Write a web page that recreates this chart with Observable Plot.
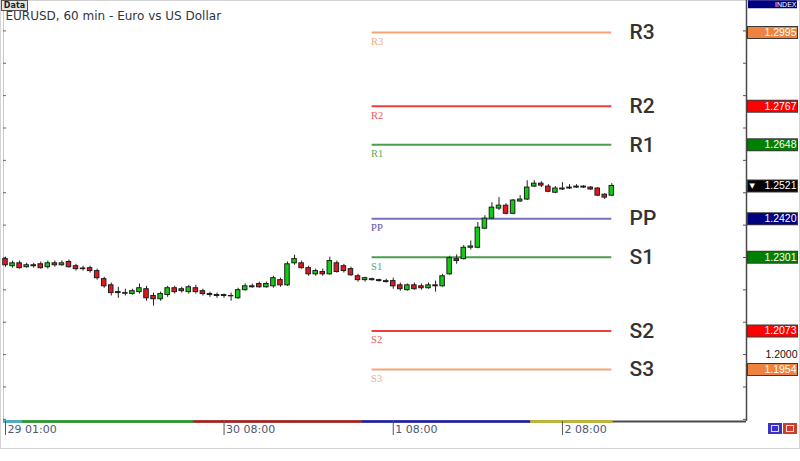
<!DOCTYPE html>
<html>
<head>
<meta charset="utf-8">
<script src="https://cdn.jsdelivr.net/npm/d3@7"></script>
<script src="https://cdn.jsdelivr.net/npm/@observablehq/plot@0.6"></script>
<style>
  html, body { margin: 0; padding: 0; background: #fff; }
  #wrap { position: relative; width: 800px; height: 461px; overflow: hidden; }
  #border { position: absolute; left: 0; top: 0; width: 798px; height: 447px; border: 1px solid #d4d4d4; pointer-events: none; }
  #tab { position: absolute; left: 1px; top: 0px; width: 25px; height: 9px; border: 1px solid #555; background: #e6e6e6;
         font: bold 8px 'DejaVu Sans', sans-serif; line-height: 9px; color: #222; text-align: center; }
  .btn { position: absolute; top: 423px; width: 14px; height: 11px; }
</style>
</head>
<body>
<div id="wrap">
  <div id="border"></div>
</div>
<script>
// ---- data ----
const title = "EURUSD, 60 min - Euro vs US Dollar";
const candleOpen = [
  1.2295, 1.2273, 1.2282, 1.2270, 1.2276, 1.2279, 1.2270, 1.2282, 1.2276, 1.2286,
  1.2273, 1.2266, 1.2267, 1.2258, 1.2233, 1.2214, 1.2193, 1.2190, 1.2187, 1.2193,
  1.2202, 1.2181, 1.2171, 1.2184, 1.2205, 1.2202, 1.2193, 1.2205, 1.2196, 1.2187,
  1.2184, 1.2181, 1.2181, 1.2174, 1.2199, 1.2208, 1.2218, 1.2208, 1.2211, 1.2230,
  1.2214, 1.2282, 1.2282, 1.2267, 1.2248, 1.2255, 1.2248, 1.2282, 1.2273, 1.2264,
  1.2242, 1.2230, 1.2233, 1.2230, 1.2227, 1.2227, 1.2214, 1.2199, 1.2214, 1.2211,
  1.2205, 1.2214, 1.2211, 1.2248, 1.2295, 1.2295, 1.2330, 1.2330, 1.2389, 1.2420,
  1.2451, 1.2460, 1.2435, 1.2473, 1.2479, 1.2519, 1.2528, 1.2519, 1.2500, 1.2510,
  1.2513, 1.2516, 1.2519, 1.2516, 1.2513, 1.2494, 1.2491
];
const candleHigh = [
  1.2301, 1.2289, 1.2289, 1.2282, 1.2282, 1.2286, 1.2289, 1.2289, 1.2289, 1.2292,
  1.2279, 1.2273, 1.2273, 1.2264, 1.2239, 1.2221, 1.2208, 1.2202, 1.2202, 1.2218,
  1.2211, 1.2190, 1.2193, 1.2211, 1.2211, 1.2208, 1.2214, 1.2214, 1.2202, 1.2193,
  1.2190, 1.2187, 1.2190, 1.2205, 1.2218, 1.2218, 1.2224, 1.2224, 1.2242, 1.2236,
  1.2286, 1.2307, 1.2289, 1.2273, 1.2264, 1.2264, 1.2301, 1.2289, 1.2279, 1.2270,
  1.2248, 1.2239, 1.2236, 1.2233, 1.2233, 1.2236, 1.2221, 1.2218, 1.2221, 1.2218,
  1.2221, 1.2227, 1.2248, 1.2304, 1.2308, 1.2337, 1.2351, 1.2408, 1.2429, 1.2469,
  1.2485, 1.2466, 1.2479, 1.2491, 1.2537, 1.2537, 1.2534, 1.2525, 1.2519, 1.2531,
  1.2525, 1.2525, 1.2522, 1.2519, 1.2516, 1.2497, 1.2528
];
const candleLow = [
  1.2270, 1.2267, 1.2264, 1.2267, 1.2267, 1.2264, 1.2264, 1.2270, 1.2273, 1.2267,
  1.2258, 1.2258, 1.2252, 1.2230, 1.2205, 1.2181, 1.2174, 1.2181, 1.2184, 1.2187,
  1.2165, 1.2150, 1.2165, 1.2177, 1.2187, 1.2190, 1.2187, 1.2187, 1.2181, 1.2177,
  1.2174, 1.2174, 1.2165, 1.2171, 1.2196, 1.2205, 1.2205, 1.2205, 1.2205, 1.2208,
  1.2211, 1.2276, 1.2264, 1.2242, 1.2242, 1.2242, 1.2245, 1.2252, 1.2252, 1.2242,
  1.2224, 1.2224, 1.2227, 1.2224, 1.2221, 1.2202, 1.2196, 1.2196, 1.2199, 1.2199,
  1.2202, 1.2193, 1.2208, 1.2245, 1.2279, 1.2292, 1.2323, 1.2327, 1.2386, 1.2417,
  1.2445, 1.2432, 1.2432, 1.2470, 1.2476, 1.2516, 1.2516, 1.2500, 1.2497, 1.2507,
  1.2510, 1.2513, 1.2513, 1.2507, 1.2488, 1.2479, 1.2488
];
const candleClose = [
  1.2276, 1.2282, 1.2267, 1.2276, 1.2273, 1.2267, 1.2282, 1.2276, 1.2282, 1.2270,
  1.2264, 1.2264, 1.2258, 1.2236, 1.2211, 1.2190, 1.2190, 1.2188, 1.2196, 1.2205,
  1.2174, 1.2171, 1.2187, 1.2205, 1.2193, 1.2196, 1.2208, 1.2193, 1.2187, 1.2184,
  1.2181, 1.2184, 1.2180, 1.2199, 1.2211, 1.2211, 1.2208, 1.2218, 1.2236, 1.2214,
  1.2279, 1.2295, 1.2267, 1.2248, 1.2258, 1.2248, 1.2289, 1.2255, 1.2258, 1.2245,
  1.2230, 1.2236, 1.2230, 1.2227, 1.2224, 1.2211, 1.2202, 1.2214, 1.2202, 1.2205,
  1.2214, 1.2211, 1.2242, 1.2298, 1.2289, 1.2330, 1.2334, 1.2392, 1.2420, 1.2454,
  1.2460, 1.2435, 1.2476, 1.2479, 1.2516, 1.2528, 1.2522, 1.2503, 1.2513, 1.2513,
  1.2516, 1.2519, 1.2516, 1.2510, 1.2491, 1.2485, 1.2521
];

const pivotNames  = ["R3", "R2", "R1", "PP", "S1", "S2", "S3"];
const pivotValues = [1.2995, 1.2767, 1.2648, 1.2420, 1.2301, 1.2073, 1.1954];
const pivotLineColors  = ["#f6a378", "#f03c3c", "#4c9e4c", "#7272c2", "#4c9e4c", "#f03c3c", "#f6a378"];
const pivotLabelColors = ["#f4a884", "#ee5a5a", "#62a862", "#5252a8", "#62a862", "#ee5a5a", "#f4a884"];
const pivotBoxColors   = ["#f0823f", "#ff0000", "#008000", "#000080", "#008000", "#ff0000", "#f0823f"];
const pivotStartIdx = 52;
const pivotEndIdx = 86;

const currentPrice = 1.2521;
const indexLevel = 1.3082;
const priceTicks = [1.18, 1.19, 1.20, 1.21, 1.22, 1.23, 1.24, 1.25, 1.26, 1.27, 1.28, 1.29, 1.30];
const plainPriceLabels = [1.2000];

const timeTickIdx = [0, 31, 55, 79];
const timeTickLabels = ["29 01:00", "30 08:00", "1 08:00", "2 08:00"];

const sessionStart = [-0.28, 2.4, 26.7, 50.6, 74.5];
const sessionEnd   = [2.4, 26.7, 50.6, 74.5, 86.2];
const sessionColor = ["#38b4cf", "#1f9e1f", "#b01c1c", "#1c1cb0", "#c4b81e"];

// ---- tables built from the arrays ----
const candles = candleOpen.map((o, i) => ({
  i, open: o, high: candleHigh[i], low: candleLow[i], close: candleClose[i]
}));
const pivots = pivotNames.map((name, k) => ({
  name, value: pivotValues[k], line: pivotLineColors[k], label: pivotLabelColors[k], box: pivotBoxColors[k]
}));
const boxes = [
  ...pivots.map(p => ({value: p.value, color: p.box, text: p.value.toFixed(4), size: 10.5})),
  {value: currentPrice, color: "#000000", text: currentPrice.toFixed(4), size: 10.5}
];
const indexBox = [{value: indexLevel, color: "#000080", text: "INDEX", size: 7}];
const sessions = sessionStart.map((s, k) => ({start: s, end: sessionEnd[k], color: sessionColor[k]}));
const timeLabel = new Map(timeTickIdx.map((t, k) => [t, timeTickLabels[k]]));

const xDomain = [-0.284, 105.106];
const yDomain = [1.17933, 1.30939];
const UP = "#12cc12", DOWN = "#e6171c", EDGE = "#1e1e1e";

const chart = Plot.plot({
  width: 800,
  height: 461,
  marginLeft: 3,
  marginRight: 0,
  marginTop: 0,
  marginBottom: 40,
  x: {domain: xDomain, range: [3, 746]},
  y: {domain: yDomain, range: [421, 0], axis: null},
  color: {type: "identity"},
  style: {fontFamily: "'DejaVu Sans', sans-serif", fontSize: "10px", background: "transparent", overflow: "visible"},
  marks: [
    // chart frame: left edge, right axis line, bottom line
    Plot.ruleX([xDomain[0]], {stroke: "#c8c8c8", insetTop: 11}),
    Plot.ruleX([xDomain[1]], {stroke: "#4a4a4a", strokeWidth: 1.5}),
    Plot.ruleY([yDomain[0]], {x1: () => xDomain[0], x2: () => xDomain[1], stroke: "#4a4a4a", strokeWidth: 2}),
    // session strip on the time axis
    Plot.ruleY(sessions, {y: () => yDomain[0], x1: "start", x2: "end", stroke: "color", strokeWidth: 2.5}),
    // price ticks on both sides of the plot area
    Plot.ruleY(priceTicks, {stroke: "#666", insetLeft: 0, insetRight: 794}),
    Plot.ruleY(priceTicks, {stroke: "#555", insetLeft: 740, insetRight: 54}),
    // time axis ticks and labels
    Plot.axisX(timeTickIdx, {tickSize: 14, tickFormat: () => "", stroke: "#555"}),
    Plot.text(timeTickIdx, {x: d => d, text: d => timeLabel.get(d), frameAnchor: "bottom", lineAnchor: "top",
      textAnchor: "start", dx: 2, dy: 4, fontSize: 11, fill: "#4d5872"}),
    // pivot levels
    Plot.ruleY(pivots, {y: "value", x1: () => pivotStartIdx, x2: () => pivotEndIdx, stroke: "line", strokeWidth: 2}),
    Plot.text(pivots, {x: () => pivotStartIdx, y: "value", text: "name", dy: 9, dx: -1, textAnchor: "start",
      fill: "label", fontSize: 10.5, fontFamily: "'Liberation Serif', serif"}),
    // candles
    Plot.ruleX(candles, {x: "i", y1: "low", y2: "high", stroke: EDGE}),
    Plot.rect(candles, {x1: d => d.i - 0.32, x2: d => d.i + 0.32, y1: "open", y2: "close",
      fill: d => d.close > d.open ? UP : d.close < d.open ? DOWN : EDGE, stroke: EDGE, strokeWidth: 1}),
    // big level names
    Plot.text(pivots, {y: "value", text: "name", frameAnchor: "left", dx: 626, textAnchor: "start",
      fontSize: 21, fontWeight: 500, fontFamily: "Roboto, sans-serif", fill: "#333"}),
    // price boxes on the right axis
    Plot.ruleY(boxes, {y: "value", stroke: "#3a3a3a", strokeWidth: 13, insetLeft: 744, insetRight: 2}),
    Plot.ruleY(boxes, {y: "value", stroke: "color", strokeWidth: 11, insetLeft: 745, insetRight: 3}),
    Plot.ruleY(indexBox, {y: "value", stroke: "color", strokeWidth: 8, insetLeft: 745, insetRight: 3}),
    Plot.text([...boxes, ...indexBox], {y: "value", text: "text", frameAnchor: "right", dx: -4, fill: "white",
      fontSize: "size", fontFamily: "'Liberation Sans', sans-serif"}),
    Plot.text([currentPrice], {y: d => d, text: () => "▼", frameAnchor: "left", dx: 746, textAnchor: "start",
      fill: "white", fontSize: 7}),
    Plot.text(plainPriceLabels, {y: d => d, text: d => d.toFixed(4), frameAnchor: "right", dx: -3,
      fill: "#111", fontSize: 10.5, fontFamily: "'Liberation Sans', sans-serif"}),
    // title
    Plot.text([title], {text: d => d, frameAnchor: "top-left", dx: 2, dy: 11, textAnchor: "start", lineAnchor: "top",
      fontSize: 12, fill: "#2f3444"})
  ]
});

const wrap = document.getElementById("wrap");
chart.style.position = "absolute";
chart.style.left = "0px";
chart.style.top = "0px";
wrap.appendChild(chart);

const tab = document.createElement("div");
tab.id = "tab";
tab.textContent = "Data";
wrap.appendChild(tab);

const b1 = document.createElement("div");
b1.className = "btn"; b1.style.left = "768px"; b1.style.background = "#3b30c8";
b1.innerHTML = '<div style="margin:2px 3px;height:5px;border:1px solid #dde;"></div>';
const b2 = document.createElement("div");
b2.className = "btn"; b2.style.left = "783px"; b2.style.background = "#d23a2a";
b2.innerHTML = '<div style="margin:2px 3px;height:5px;border:1px solid #fdd;"></div>';
wrap.appendChild(b1); wrap.appendChild(b2);
</script>
</body>
</html>
